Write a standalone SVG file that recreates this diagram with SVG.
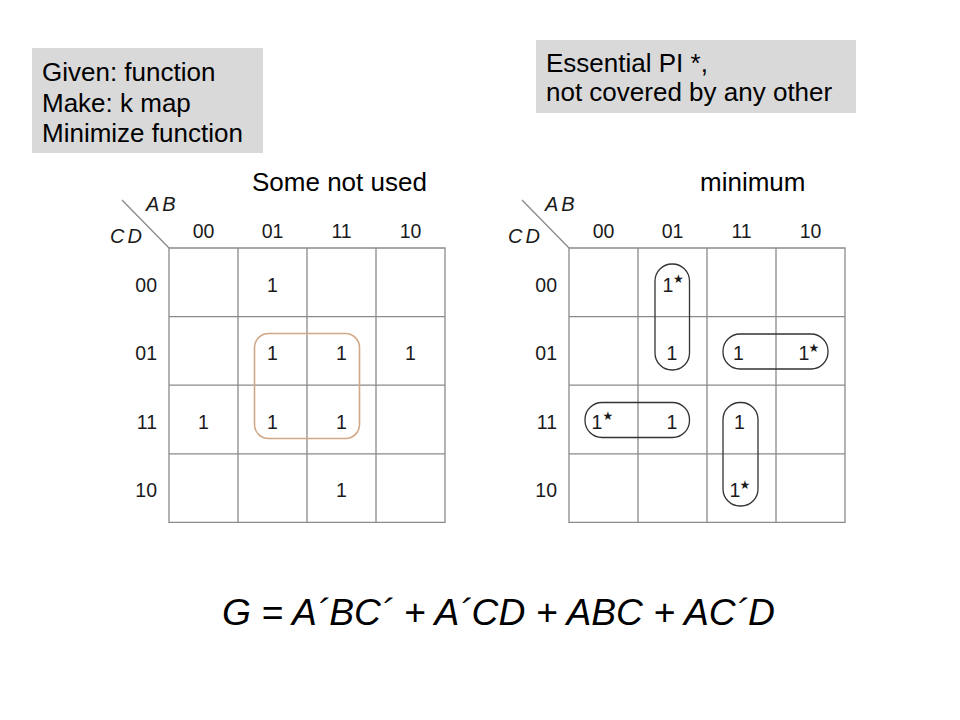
<svg xmlns="http://www.w3.org/2000/svg" width="960" height="720" viewBox="0 0 960 720">
<style>
.box{fill:#d9d9d9}
.note{font-family:"Liberation Sans",Arial,sans-serif;font-size:26px;fill:#000}
.title{font-family:"Liberation Sans",Arial,sans-serif;font-size:26px;fill:#000}
.grid{stroke:#8a8a8a;stroke-width:1.3;fill:none}
.lbl{font-family:"Liberation Sans",Arial,sans-serif;font-size:19.5px;fill:#1a1a1a}
.var{font-family:"Liberation Sans",Arial,sans-serif;font-size:20px;font-style:italic;fill:#1a1a1a;letter-spacing:3px}
.one{font-family:"Liberation Sans",Arial,sans-serif;font-size:19.5px;fill:#1a1a1a;text-anchor:middle}
.star{font-family:"DejaVu Sans",sans-serif;font-size:12px;fill:#1a1a1a}
.loop{fill:none;stroke:#333;stroke-width:1.3}
.loopo{fill:none;stroke:#d0a887;stroke-width:1.6}
.eq{font-family:"Liberation Sans",Arial,sans-serif;font-size:36px;font-style:italic;fill:#000}
</style>
<rect width="960" height="720" fill="#fff"/>
<g id="note-given">
<rect class="box" x="32" y="48" width="231" height="105"/>
<text class="note" x="42" y="81">Given: function</text>
<text class="note" x="42" y="112">Make: k map</text>
<text class="note" x="42" y="142">Minimize function</text>
</g>
<g id="note-essential">
<rect class="box" x="536" y="40" width="320" height="73"/>
<text class="note" x="546" y="72">Essential PI *,</text>
<text class="note" x="546" y="101">not covered by any other</text>
</g>
<text class="title" x="252" y="191">Some not used</text>
<text class="title" x="700" y="191">minimum</text>
<g id="kmap-left">
<line class="grid" x1="122" y1="200" x2="169" y2="248"/>
<text class="var" x="146" y="211">AB</text>
<text class="var" x="110" y="243">CD</text>
<text class="lbl" x="203.5" y="238" text-anchor="middle">00</text>
<text class="lbl" x="272.5" y="238" text-anchor="middle">01</text>
<text class="lbl" x="341.5" y="238" text-anchor="middle">11</text>
<text class="lbl" x="410.5" y="238" text-anchor="middle">10</text>
<text class="lbl" x="157" y="291.5" text-anchor="end">00</text>
<text class="lbl" x="157" y="360" text-anchor="end">01</text>
<text class="lbl" x="157" y="428.5" text-anchor="end">11</text>
<text class="lbl" x="157" y="497" text-anchor="end">10</text>
<path class="grid" d="M169 248H445V522.4H169Z M238 248V522.4 M307 248V522.4 M376 248V522.4 M169 316.6H445 M169 385.2H445 M169 453.8H445"/>
<text class="one" x="272.5" y="291.5">1</text>
<text class="one" x="272.5" y="360">1</text>
<text class="one" x="341.5" y="360">1</text>
<text class="one" x="410.5" y="360">1</text>
<text class="one" x="203.5" y="428.5">1</text>
<text class="one" x="272.5" y="428.5">1</text>
<text class="one" x="341.5" y="428.5">1</text>
<text class="one" x="341.5" y="497">1</text>
<rect class="loopo" x="254.5" y="333.5" width="105" height="105" rx="14"/>
</g>
<g id="kmap-right">
<line class="grid" x1="522" y1="200" x2="569" y2="248"/>
<text class="var" x="545" y="211">AB</text>
<text class="var" x="508" y="243">CD</text>
<text class="lbl" x="603.5" y="238" text-anchor="middle">00</text>
<text class="lbl" x="672.5" y="238" text-anchor="middle">01</text>
<text class="lbl" x="741.5" y="238" text-anchor="middle">11</text>
<text class="lbl" x="810.5" y="238" text-anchor="middle">10</text>
<text class="lbl" x="557" y="291.5" text-anchor="end">00</text>
<text class="lbl" x="557" y="360" text-anchor="end">01</text>
<text class="lbl" x="557" y="428.5" text-anchor="end">11</text>
<text class="lbl" x="557" y="497" text-anchor="end">10</text>
<path class="grid" d="M569 248H845V522.4H569Z M638 248V522.4 M707 248V522.4 M776 248V522.4 M569 316.6H845 M569 385.2H845 M569 453.8H845"/>
<text class="one" x="668" y="291.5">1</text><text class="star" x="673" y="283">★</text>
<text class="one" x="672" y="360">1</text>
<text class="one" x="738.5" y="360">1</text>
<text class="one" x="804" y="360">1</text><text class="star" x="808.5" y="351.5">★</text>
<text class="one" x="597" y="428.5">1</text><text class="star" x="602.5" y="420">★</text>
<text class="one" x="672" y="428.5">1</text>
<text class="one" x="739.5" y="428.5">1</text>
<text class="one" x="735" y="497">1</text><text class="star" x="739.5" y="488.5">★</text>
</g>
<g id="connectors">
<rect class="loop" x="655" y="264" width="34.5" height="106" rx="17"/>
<rect class="loop" x="723" y="334" width="105" height="35" rx="17"/>
<rect class="loop" x="585" y="402.5" width="104.5" height="35" rx="17"/>
<rect class="loop" x="723" y="402.5" width="35" height="103.5" rx="17"/>
</g>
<text class="eq" x="222" y="625" textLength="553" lengthAdjust="spacingAndGlyphs">G = A´BC´ + A´CD + ABC + AC´D</text>
</svg>
